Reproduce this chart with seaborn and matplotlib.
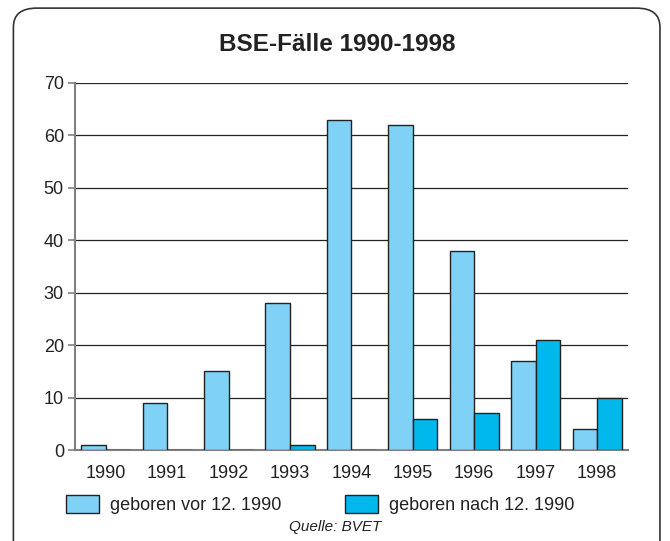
import numpy as np
import pandas as pd
import seaborn as sns
import matplotlib.pyplot as plt
from matplotlib.patches import FancyBboxPatch

# data
years = ["1990", "1991", "1992", "1993", "1994", "1995", "1996", "1997", "1998"]
vor_1990 = [1, 9, 15, 28, 63, 62, 38, 17, 4]
nach_1990 = [0, 0, 0, 1, 0, 6, 7, 21, 10]
series_names = ["geboren vor 12. 1990", "geboren nach 12. 1990"]

df = pd.DataFrame({
    "Jahr": years * 2,
    "Fälle": vor_1990 + nach_1990,
    "Gruppe": [series_names[0]] * len(years) + [series_names[1]] * len(years),
})

sns.set_style("white")
plt.rcParams['font.family'] = ['Liberation Sans', 'DejaVu Sans']

fig = plt.figure(figsize=(6.7, 5.41), dpi=100)
ax = fig.add_axes([0.112, 0.168, 0.825, 0.679])

palette = {series_names[0]: "#7fd1f5", series_names[1]: "#00b8ec"}
sns.barplot(data=df, x="Jahr", y="Fälle", hue="Gruppe", palette=palette,
            width=0.8, edgecolor="#222222", linewidth=1.0, saturation=1,
            ax=ax, zorder=3)

ax.set_ylim(0, 70)
ax.set_yticks(range(0, 71, 10))
ax.set_xlim(-0.5, len(years) - 0.5)
ax.yaxis.grid(True, color="#222222", linewidth=0.9, zorder=0)
ax.set_axisbelow(True)
for s in ["top", "right"]:
    ax.spines[s].set_visible(False)
ax.spines["left"].set_color("#808080")
ax.spines["left"].set_linewidth(1.5)
ax.spines["bottom"].set_color("#808080")
ax.spines["bottom"].set_linewidth(1.5)
ax.tick_params(axis="y", left=True, length=5, width=1.2, color="#808080",
               labelsize=13, labelcolor="#222222", pad=3)
ax.tick_params(axis="x", bottom=False, labelsize=13, labelcolor="#222222", pad=7)
ax.set_xlabel("")
ax.set_ylabel("")

handles, labels = ax.get_legend_handles_labels()
fig.legend(handles, labels, loc="center left", bbox_to_anchor=(0.074, 0.068),
           ncol=2, frameon=False, fontsize=13, handlelength=1.85, handleheight=1.2,
           columnspacing=3.5, handletextpad=0.6, labelcolor="#222222")
ax.get_legend().remove()

fig.text(0.503, 0.917, "BSE-Fälle 1990-1998", ha="center", va="center",
         fontsize=17.5, fontweight="bold", color="#222222")
fig.text(0.501, 0.026, "Quelle: BVET", ha="center", va="center",
         fontsize=11, style="italic", color="#222222")

border = FancyBboxPatch((0.02, -0.05), 0.965, 1.035,
                        boxstyle="round,pad=0,rounding_size=0.035",
                        transform=fig.transFigure, fill=False,
                        edgecolor="#333333", linewidth=1.2)
fig.patches.append(border)

fig.savefig("out.png", dpi=100)
